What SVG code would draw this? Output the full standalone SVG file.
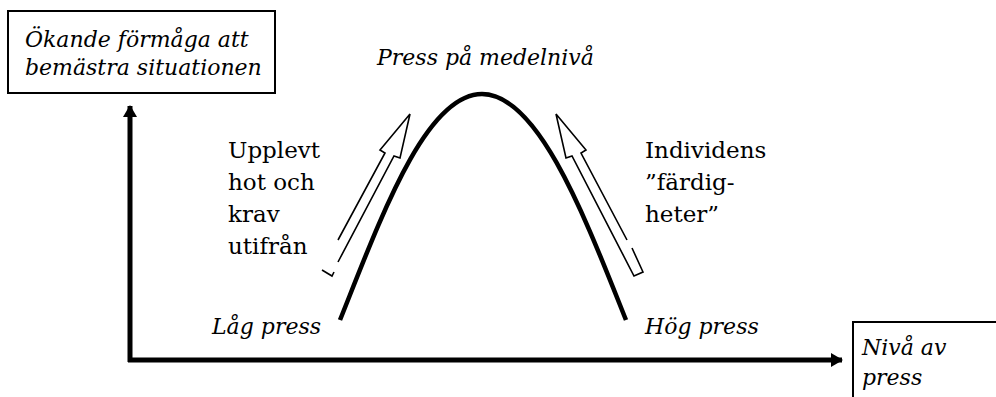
<svg xmlns="http://www.w3.org/2000/svg" width="996" height="397" viewBox="0 0 996 397">
<style>
.t{font-family:'DejaVu Serif',serif;font-size:23px;fill:#000}
.i{font-style:italic;font-size:22px}
.box{fill:#fff;stroke:#000;stroke-width:2}
.axis{fill:none;stroke:#000;stroke-width:5}
.hollow{fill:none;stroke:#000;stroke-width:1.6;stroke-linejoin:miter}
</style>
<defs>
<marker id="ah" viewBox="0 0 12 14" refX="11" refY="7" markerWidth="12" markerHeight="14" markerUnits="userSpaceOnUse" orient="auto">
<path d="M0,0 L12,7 L0,14 Z" fill="#000"/>
</marker>
</defs>
<rect width="996" height="397" fill="#fff"/>
<g id="connectors">
<path class="axis" d="M130,362 L130,106" marker-end="url(#ah)"/>
<path class="axis" d="M128,360 L842,360" marker-end="url(#ah)"/>
<path d="M340,320 C380,220 425,94 482,94 C539,94 586,220 626,320" fill="none" stroke="#000" stroke-width="4.5"/>
<path class="hollow" d="M338,240 L385,153 L380,150 L410,114 L400,158 L394,156 L338,262"/>
<path class="hollow" d="M322,270 L332,276 L334,272"/>
<path class="hollow" d="M627,240 L581,153 L586,150 L556,114 L566,158 L572,156 L634,276 L643,272 L632,248"/>
</g>
<g id="y-label">
<rect class="box" x="8" y="11" width="267" height="82"/>
<text class="t i" x="25" y="47">Ökande förmåga att</text>
<text class="t i" x="25" y="75">bemästra situationen</text>
</g>
<g id="x-label">
<rect class="box" x="853" y="322" width="160" height="100"/>
<text class="t i" x="862" y="355">Nivå av</text>
<text class="t i" x="862" y="385">press</text>
</g>
<g id="peak-label">
<text class="t i" x="377" y="65">Press på medelnivå</text>
</g>
<g id="low-label">
<text class="t i" x="212" y="334">Låg press</text>
</g>
<g id="high-label">
<text class="t i" x="645" y="334">Hög press</text>
</g>
<g id="left-text">
<text class="t" x="228" y="158">Upplevt</text>
<text class="t" x="228" y="190">hot och</text>
<text class="t" x="228" y="222">krav</text>
<text class="t" x="228" y="254">utifrån</text>
</g>
<g id="right-text">
<text class="t" x="645" y="158">Individens</text>
<text class="t" x="645" y="190">”färdig-</text>
<text class="t" x="645" y="222">heter”</text>
</g>
</svg>
